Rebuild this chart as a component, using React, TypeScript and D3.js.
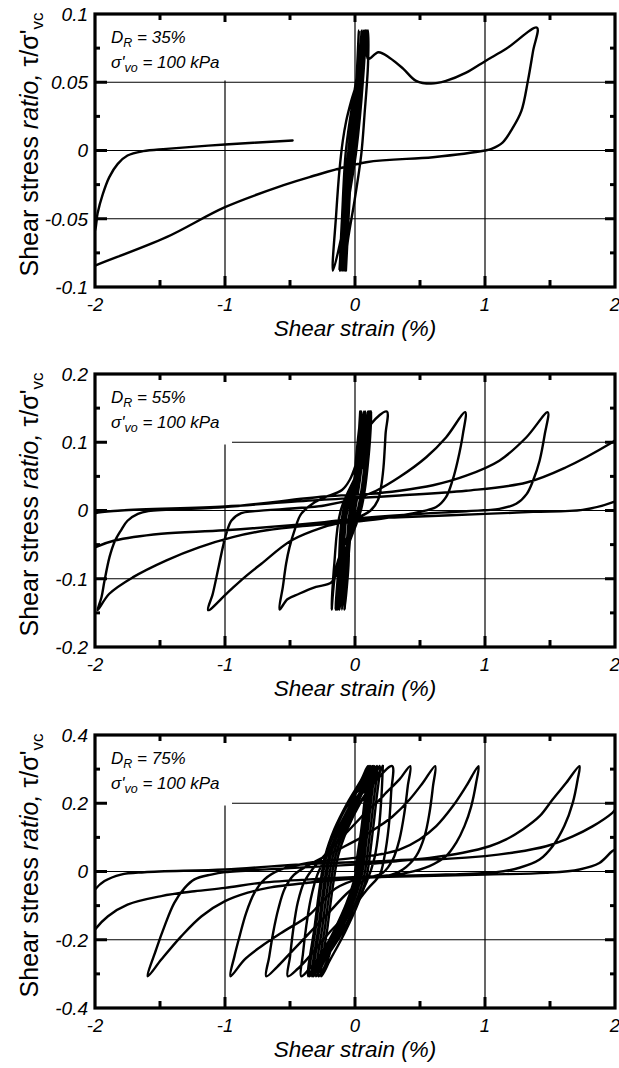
import React from 'react';
import * as d3 from 'd3';

type Pt = [number, number];

// ---------- axis data ----------
const X_TICKS = [-2, -1, 0, 1, 2];
const X_MINOR = [-1.5, -0.5, 0.5, 1.5];
const P1_Y_TICKS = [-0.1, -0.05, 0, 0.05, 0.1];
const P2_Y_TICKS = [-0.2, -0.1, 0, 0.1, 0.2];
const P3_Y_TICKS = [-0.4, -0.2, 0, 0.2, 0.4];
const DENSITIES = ['35%', '55%', '75%'];
const STRESS_LABEL = '100 kPa';

// ---------- series data (shear strain %, shear stress ratio) ----------
const P1_PATH: Pt[] = [
  [0, 0], [0.015, 0.04], [0.03, 0.088],
  [0.01, 0.05], [-0.03, 0], [-0.05, -0.05], [-0.07, -0.088],
  [-0.05, -0.05], [-0.02, 0], [0.02, 0.04], [0.05, 0.088],
  [0.03, 0.05], [-0.02, 0], [-0.06, -0.05], [-0.09, -0.088],
  [-0.07, -0.05], [-0.04, 0], [0.0, 0.04], [0.06, 0.088],
  [0.04, 0.05], [-0.01, 0], [-0.07, -0.05], [-0.1, -0.088],
  [-0.08, -0.05], [-0.05, 0], [0.0, 0.04], [0.07, 0.088],
  [0.05, 0.05], [0.0, 0], [-0.06, -0.04], [-0.12, -0.07], [-0.17, -0.088],
  [-0.145, -0.047], [-0.12, -0.015], [-0.094, 0.007], [-0.068, 0.0215], [-0.03, 0.036], [0.022, 0.053], [0.048, 0.075], [0.06, 0.087],
  [0.04, 0.05], [-0.01, 0], [-0.09, -0.05], [-0.12, -0.088],
  [-0.1, -0.05], [-0.07, 0], [-0.01, 0.04], [0.08, 0.088],
  [0.06, 0.05], [0.01, 0], [-0.07, -0.05], [-0.11, -0.088],
  [-0.09, -0.05], [-0.05, 0], [0.02, 0.04], [0.1, 0.088],
  [0.1, 0.063], [0.073, 0.026], [0.048, -0.003], [-0.004, -0.037], [-0.055, -0.066], [-0.08, -0.088],
  [-0.06, -0.05], [-0.03, 0], [0.03, 0.04], [0.09, 0.088],
  [0.1, 0.067], [0.18, 0.072], [0.265, 0.068], [0.37, 0.06], [0.47, 0.051], [0.586, 0.049], [0.7, 0.051],
  [0.855, 0.057], [1.01, 0.066], [1.163, 0.0745], [1.4, 0.09],
  [1.37, 0.073], [1.33, 0.051], [1.28, 0.029], [1.21, 0.016], [1.137, 0.006], [1.05, 0.0012], [1.0, 0.0],
  [0.6, -0.0049], [0.086, -0.0086], [-0.35, -0.0195], [-0.555, -0.0256], [-1.0, -0.0415], [-1.45, -0.0635],
  [-1.99, -0.084], [-2.06, -0.087],
  [-2.06, -0.07], [-2.0, -0.0586], [-1.98, -0.046], [-1.94, -0.032], [-1.89, -0.0195], [-1.825, -0.0098],
  [-1.75, -0.0037], [-1.63, -0.0005], [-1.45, 0.0012], [-1.0, 0.0044], [-0.48, 0.0073],
];

const P2_PATH: Pt[] = [
  [0, 0], [0.02, 0.08], [0.04, 0.145],
  [0.02, 0.08], [-0.04, 0], [-0.05, -0.08], [-0.08, -0.145],
  [-0.055, -0.08], [-0.02, 0], [0.01, 0.08], [0.05, 0.145],
  [0.03, 0.08], [-0.03, 0], [-0.06, -0.08], [-0.1, -0.145],
  [-0.075, -0.08], [-0.04, 0], [0.03, 0.08], [0.07, 0.145],
  [0.05, 0.08], [-0.01, 0], [-0.08, -0.08], [-0.12, -0.145],
  [-0.095, -0.08], [-0.06, 0], [0.04, 0.08], [0.08, 0.145],
  [0.06, 0.08], [0.0, 0], [-0.09, -0.08], [-0.13, -0.145],
  [-0.105, -0.08], [-0.07, 0], [0.06, 0.08], [0.1, 0.145],
  [0.08, 0.08], [0.02, 0], [-0.14, -0.08], [-0.18, -0.145],
  [-0.16, -0.08], [-0.11, 0], [0.07, 0.08], [0.11, 0.145],
  [0.09, 0.08], [0.03, 0], [-0.11, -0.08], [-0.15, -0.145],
  [-0.125, -0.08], [-0.09, 0], [0.08, 0.08], [0.12, 0.145],
  [0.1, 0.08], [0.04, 0], [-0.1, -0.08], [-0.14, -0.145],
  [-0.115, -0.08], [-0.08, 0], [0.085, 0.08], [0.125, 0.145],
  [0.105, 0.08], [0.045, 0], [-0.1, -0.07], [-0.18, -0.105], [-0.3, -0.112], [-0.43, -0.122], [-0.52, -0.13], [-0.58, -0.145],
  [-0.555, -0.112], [-0.53, -0.078], [-0.504, -0.054], [-0.465, -0.029], [-0.414, -0.005], [-0.31, 0.012], [-0.235, 0.019],
  [-0.1, 0.03], [-0.04, 0.045], [0.03, 0.08], [0.125, 0.127], [0.245, 0.145],
  [0.235, 0.112], [0.219, 0.063], [0.2, 0.034], [0.176, 0.015], [0.12, 0.0], [0.0, -0.012], [-0.235, -0.024],
  [-0.49, -0.044], [-0.72, -0.078], [-0.85, -0.098], [-0.978, -0.12], [-1.13, -0.146],
  [-1.094, -0.122], [-1.055, -0.088], [-1.017, -0.054], [-0.99, -0.034], [-0.95, -0.0147], [-0.875, -0.004], [-0.77, -0.001],
  [-0.235, 0.0073], [0.035, 0.0195], [0.163, 0.029], [0.342, 0.049], [0.548, 0.078], [0.7, 0.107], [0.848, 0.144],
  [0.83, 0.112], [0.79, 0.073], [0.75, 0.044], [0.7, 0.0195], [0.625, 0.005], [0.52, -0.001], [0.2, -0.012], [-0.1, -0.018], [-0.35, -0.022],
  [-0.68, -0.029], [-0.94, -0.039], [-1.2, -0.054], [-1.45, -0.073], [-1.71, -0.098], [-1.89, -0.122], [-1.98, -0.146],
  [-1.95, -0.127], [-1.927, -0.103], [-1.888, -0.068], [-1.85, -0.046], [-1.8, -0.029], [-1.75, -0.015], [-1.67, -0.005], [-1.59, -0.001],
  [-1.0, 0.005], [-0.235, 0.0205], [0.086, 0.024],
  [0.342, 0.029], [0.6, 0.037], [0.855, 0.051], [1.11, 0.073], [1.317, 0.107], [1.483, 0.144],
  [1.46, 0.112], [1.42, 0.073], [1.37, 0.044], [1.32, 0.024], [1.24, 0.0098], [1.11, 0.0024], [0.855, -0.001], [0.4, -0.006], [0.0, -0.012], [-0.235, -0.017],
  [-1.0, -0.029], [-1.49, -0.034], [-1.85, -0.044], [-2.0, -0.054], [-2.06, -0.06],
  [-2.06, -0.01], [-2.0, -0.004], [-1.8, 0.0], [-1.0, 0.006], [-0.235, 0.016], [0.086, 0.019],
  [0.342, 0.022], [0.855, 0.029], [1.32, 0.041], [1.62, 0.063], [1.98, 0.1], [2.06, 0.11],
  [2.06, 0.02], [1.98, 0.012], [1.75, 0.001], [1.37, -0.002], [1.0, -0.005], [0.34, -0.0098], [0.086, -0.012], [-0.235, -0.018], [-0.35, -0.02],
];

const P3_BAND: Pt[] = [
  [0, 0], [0.04, 0.1], [0.08, 0.2], [0.12, 0.309],
  [0.095, 0.211], [0.056, 0.084], [0.02, -0.014], [-0.045, -0.092], [-0.15, -0.18], [-0.21, -0.258], [-0.28, -0.307],
  [-0.23, -0.16], [-0.19, -0.043], [-0.15, 0.045], [-0.08, 0.123], [0.02, 0.2], [0.1, 0.27], [0.15, 0.309],
  [0.125, 0.211], [0.086, 0.084], [0.05, -0.014], [-0.015, -0.092], [-0.12, -0.18], [-0.23, -0.258], [-0.3, -0.307],
  [-0.25, -0.16], [-0.21, -0.043], [-0.17, 0.045], [-0.1, 0.123], [0.0, 0.2], [0.08, 0.27], [0.13, 0.309],
  [0.105, 0.211], [0.066, 0.084], [0.03, -0.014], [-0.035, -0.092], [-0.14, -0.18], [-0.26, -0.258], [-0.33, -0.307],
  [-0.28, -0.16], [-0.24, -0.043], [-0.2, 0.045], [-0.13, 0.123], [-0.03, 0.2], [0.06, 0.27], [0.11, 0.309],
  [0.085, 0.211], [0.046, 0.084], [0.01, -0.014], [-0.055, -0.092], [-0.16, -0.18], [-0.29, -0.258], [-0.36, -0.307],
  [-0.31, -0.16], [-0.27, -0.043], [-0.23, 0.045], [-0.16, 0.123], [-0.06, 0.2], [0.05, 0.27], [0.1, 0.309],
  [0.075, 0.211], [0.036, 0.084], [0.0, -0.014], [-0.065, -0.092], [-0.17, -0.18], [-0.28, -0.258], [-0.35, -0.307],
  [-0.3, -0.16], [-0.26, -0.043], [-0.22, 0.045], [-0.15, 0.123], [-0.05, 0.2], [0.09, 0.27], [0.14, 0.309],
  [0.115, 0.211], [0.076, 0.084], [0.04, -0.014], [-0.025, -0.092], [-0.13, -0.18], [-0.25, -0.258], [-0.32, -0.307],
  [-0.27, -0.16], [-0.23, -0.043], [-0.19, 0.045], [-0.12, 0.123], [-0.02, 0.2], [0.12, 0.27], [0.17, 0.309],
  [0.145, 0.211], [0.106, 0.084], [0.07, -0.014], [0.005, -0.092], [-0.1, -0.18], [-0.23, -0.258], [-0.3, -0.307],
  [-0.25, -0.16], [-0.21, -0.043], [-0.17, 0.045], [-0.1, 0.123], [0.0, 0.2], [0.14, 0.27], [0.19, 0.309],
  [0.165, 0.211], [0.126, 0.084], [0.09, -0.014], [0.025, -0.092], [-0.08, -0.18], [-0.19, -0.258], [-0.26, -0.307],
  [-0.21, -0.16], [-0.17, -0.043], [-0.13, 0.045], [-0.06, 0.123], [0.04, 0.2], [0.16, 0.27], [0.214, 0.309],
];

const P3_GROWTH: Pt[] = [
  [0.214, 0.309],
  [0.205, 0.23], [0.185, 0.13], [0.15, 0.04], [0.09, -0.03], [0.0, -0.1], [-0.12, -0.17], [-0.25, -0.24], [-0.35, -0.285], [-0.414, -0.307],
  [-0.4, -0.24], [-0.375, -0.16], [-0.34, -0.08], [-0.29, -0.01], [-0.2, 0.06], [-0.08, 0.14], [0.05, 0.21], [0.17, 0.27], [0.286, 0.309],
  [0.278, 0.231], [0.26, 0.133], [0.227, 0.045], [0.19, -0.01], [0.1, -0.05], [-0.05, -0.12], [-0.2, -0.18], [-0.33, -0.24], [-0.44, -0.285], [-0.517, -0.307],
  [-0.5, -0.25], [-0.475, -0.17], [-0.44, -0.09], [-0.39, -0.03], [-0.3, 0.02], [-0.15, 0.08], [0.0, 0.14], [0.1, 0.18], [0.188, 0.21], [0.24, 0.231], [0.342, 0.27], [0.425, 0.309],
  [0.406, 0.25], [0.38, 0.172], [0.342, 0.094], [0.291, 0.035], [0.214, -0.004], [0.1, -0.02], [-0.05, -0.06], [-0.2, -0.12], [-0.35, -0.18], [-0.5, -0.24], [-0.6, -0.28], [-0.683, -0.307],
  [-0.66, -0.25], [-0.63, -0.18], [-0.59, -0.11], [-0.54, -0.05], [-0.47, -0.01], [-0.35, 0.02], [-0.15, 0.06], [0.05, 0.1], [0.188, 0.133], [0.291, 0.162], [0.42, 0.211], [0.522, 0.26], [0.617, 0.309],
  [0.6, 0.25], [0.573, 0.172], [0.535, 0.103], [0.47, 0.045], [0.368, 0.006], [0.24, -0.014], [0.05, -0.02], [-0.15, -0.05], [-0.28, -0.1], [-0.363, -0.131], [-0.568, -0.18], [-0.72, -0.219], [-0.85, -0.258], [-0.958, -0.307],
  [-0.927, -0.248], [-0.888, -0.19], [-0.837, -0.121], [-0.773, -0.062], [-0.696, -0.023], [-0.568, 0.006], [-0.363, 0.025], [0.0, 0.04], [0.188, 0.05], [0.342, 0.064], [0.496, 0.094], [0.625, 0.133], [0.752, 0.191], [0.855, 0.25], [0.95, 0.309],
  [0.932, 0.26], [0.894, 0.191], [0.842, 0.133], [0.778, 0.084], [0.7, 0.045], [0.573, 0.016], [0.394, -0.004], [0.188, -0.014], [-0.363, -0.033], [-0.67, -0.048], [-0.825, -0.062], [-1.0, -0.087], [-1.18, -0.131], [-1.337, -0.19], [-1.49, -0.258], [-1.594, -0.307],
  [-1.53, -0.229], [-1.465, -0.16], [-1.39, -0.092], [-1.31, -0.048], [-1.235, -0.023], [-1.106, -0.009], [-1.0, -0.002], [-0.5, 0.01], [0.0, 0.02], [0.188, 0.025], [0.317, 0.03], [0.573, 0.04], [0.83, 0.055], [1.035, 0.074], [1.163, 0.094], [1.29, 0.123], [1.42, 0.162], [1.52, 0.211], [1.625, 0.26], [1.727, 0.309],
  [1.713, 0.27], [1.675, 0.201], [1.61, 0.133], [1.52, 0.074], [1.42, 0.035], [1.265, 0.011], [1.086, -0.002], [0.7, -0.009], [0.188, -0.014], [-0.35, -0.023], [-0.72, -0.033], [-1.0, -0.048], [-1.235, -0.058], [-1.49, -0.072], [-1.75, -0.097], [-1.9, -0.131], [-2.0, -0.17], [-2.05, -0.2],
  [-2.07, -0.15], [-2.04, -0.08], [-2.0, -0.053], [-1.927, -0.028], [-1.8, -0.009], [-1.62, -0.002], [-1.0, 0.006], [-0.363, 0.022], [0.188, 0.03], [0.445, 0.035], [0.7, 0.037], [1.0, 0.045], [1.21, 0.055], [1.47, 0.074], [1.675, 0.103], [1.83, 0.133], [1.98, 0.172], [2.05, 0.2],
  [2.07, 0.12], [2.03, 0.07], [1.98, 0.06], [1.88, 0.025], [1.727, 0.006], [1.47, -0.004], [1.0, -0.009], [0.445, -0.014], [0.188, -0.016], [-0.2, -0.025], [-0.3, -0.03],
];

// ---------- layout ----------
const W = 619;
const H = 1068;
const LEFT = 95;
const RIGHT = 615;
const PH = 273;
const FONT = "'Liberation Sans', Arial, Helvetica, sans-serif";

interface PanelProps {
  id: string;
  top: number;
  yTicks: number[];
  dr: string;
  paths: Pt[][];
  boxH: number;
}

function Panel({ id, top, yTicks, dr, paths, boxH }: PanelProps) {
  const yMax = yTicks[yTicks.length - 1];
  const bottom = top + PH;
  const x = d3.scaleLinear().domain([-2, 2]).range([LEFT, RIGHT]);
  const y = d3.scaleLinear().domain([-yMax, yMax]).range([bottom, top]);
  const line = d3
    .line<Pt>()
    .x((d) => x(d[0]))
    .y((d) => y(d[1]))
    .curve(d3.curveCatmullRom.alpha(0.5));
  const innerY = yTicks.slice(1, -1);
  const yMinor = yTicks.slice(0, -1).map((v, i) => (v + yTicks[i + 1]) / 2);
  const innerX = X_TICKS.slice(1, -1);
  const fmt = (v: number) => String(+v.toFixed(3));

  return (
    <g>
      <defs>
        <clipPath id={id}>
          <rect x={LEFT} y={top} width={RIGHT - LEFT} height={PH} />
        </clipPath>
      </defs>
      {innerX.map((v) => (
        <line key={'gx' + v} x1={x(v)} x2={x(v)} y1={top} y2={bottom} stroke="#000" strokeWidth={1.2} />
      ))}
      {innerY.map((v) => (
        <line key={'gy' + v} x1={LEFT} x2={RIGHT} y1={y(v)} y2={y(v)} stroke="#000" strokeWidth={1.2} />
      ))}
      <rect x={LEFT + 1.5} y={top + 1.5} width={232 - LEFT - 1.5} height={boxH} fill="#fff" />
      <g clipPath={`url(#${id})`}>
        {paths.map((p, i) => (
          <path
            key={i}
            d={line(p) || ''}
            fill="none"
            stroke="#000"
            strokeWidth={2.4}
            strokeLinejoin="round"
            strokeLinecap="round"
          />
        ))}
      </g>
      {innerY.map((v) => (
        <g key={'ty' + v}>
          <line x1={LEFT} x2={LEFT + 12} y1={y(v)} y2={y(v)} stroke="#000" strokeWidth={3} />
          <line x1={RIGHT - 10} x2={RIGHT} y1={y(v)} y2={y(v)} stroke="#000" strokeWidth={3} />
        </g>
      ))}
      {yMinor.map((v) => (
        <g key={'tym' + v}>
          <line x1={LEFT} x2={LEFT + 5} y1={y(v)} y2={y(v)} stroke="#000" strokeWidth={3} />
          <line x1={RIGHT - 5} x2={RIGHT} y1={y(v)} y2={y(v)} stroke="#000" strokeWidth={3} />
        </g>
      ))}
      {innerX.map((v) => (
        <g key={'tx' + v}>
          <line x1={x(v)} x2={x(v)} y1={top} y2={top + 8} stroke="#000" strokeWidth={3} />
          <line x1={x(v)} x2={x(v)} y1={bottom - 11} y2={bottom} stroke="#000" strokeWidth={3} />
        </g>
      ))}
      {X_MINOR.map((v) => (
        <g key={'txm' + v}>
          <line x1={x(v)} x2={x(v)} y1={top} y2={top + 6} stroke="#000" strokeWidth={3} />
          <line x1={x(v)} x2={x(v)} y1={bottom - 7} y2={bottom} stroke="#000" strokeWidth={3} />
        </g>
      ))}
      <rect x={LEFT} y={top} width={RIGHT - LEFT} height={PH} fill="none" stroke="#000" strokeWidth={3.2} />
      {yTicks.map((v) => (
        <text
          key={'ly' + v}
          x={88}
          y={y(v)}
          dy="0.36em"
          textAnchor="end"
          fontSize={19}
          fontStyle="italic"
          fontFamily={FONT}
        >
          {fmt(v)}
        </text>
      ))}
      {X_TICKS.map((v) => (
        <text
          key={'lx' + v}
          x={x(v)}
          y={bottom + 24}
          textAnchor="middle"
          fontSize={18.5}
          fontStyle="italic"
          fontFamily={FONT}
        >
          {String(v)}
        </text>
      ))}
      <text x={x(0)} y={bottom + 49} textAnchor="middle" fontSize={22.5} fontStyle="italic" fontFamily={FONT}>
        Shear strain (%)
      </text>
      <text
        transform={`translate(38, ${top + PH / 2 - 6}) rotate(-90)`}
        textAnchor="middle"
        fontSize={25}
        fontFamily={FONT}
      >
        Shear stress <tspan fontStyle="italic">ratio,</tspan> τ/σ'
        <tspan dy={5} fontSize={17}>vc</tspan>
      </text>
      <text x={111} y={top + 29} fontSize={17} fontStyle="italic" fontFamily={FONT}>
        D<tspan dy={4} fontSize={12.5}>R</tspan>
        <tspan dy={-4}> = {dr}</tspan>
      </text>
      <text x={111} y={top + 54} fontSize={17} fontStyle="italic" fontFamily={FONT}>
        σ'<tspan dy={4} fontSize={12.5}>vo</tspan>
        <tspan dy={-4}> = {STRESS_LABEL}</tspan>
      </text>
    </g>
  );
}

export default function App() {
  return (
    <svg
      width={W}
      height={H}
      viewBox={`0 0 ${W} ${H}`}
      style={{ position: 'absolute', left: 0, top: 0, background: '#fff' }}
    >
      <rect x={0} y={0} width={W} height={H} fill="#fff" />
      <Panel id="clip1" top={14} yTicks={P1_Y_TICKS} dr={DENSITIES[0]} paths={[P1_PATH]} boxH={65} />
      <Panel id="clip2" top={374} yTicks={P2_Y_TICKS} dr={DENSITIES[1]} paths={[P2_PATH]} boxH={69} />
      <Panel id="clip3" top={735} yTicks={P3_Y_TICKS} dr={DENSITIES[2]} paths={[P3_BAND, P3_GROWTH]} boxH={69} />
    </svg>
  );
}
